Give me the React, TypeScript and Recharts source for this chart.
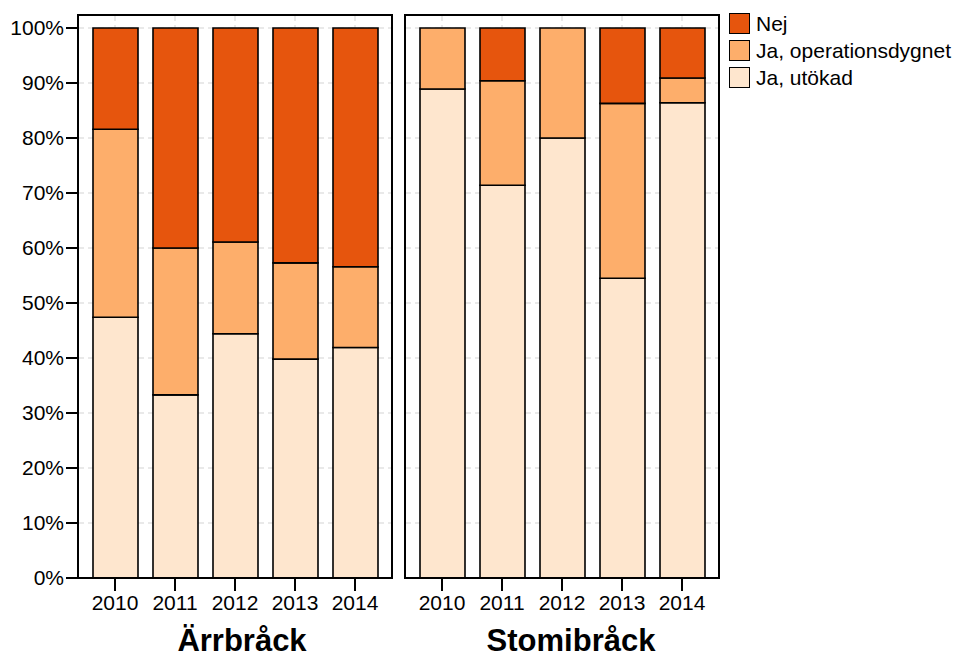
import { BarChart, Bar, XAxis, YAxis, CartesianGrid } from 'recharts';

const YEARS = ['2010', '2011', '2012', '2013', '2014'];

// Ärrbråck, andel per år (%)
const ARR_UTOKAD = [47.4, 33.3, 44.4, 39.8, 41.9];
const ARR_OPDYGN = [34.2, 26.7, 16.7, 17.5, 14.7];
const ARR_NEJ = [18.4, 40.0, 38.9, 42.7, 43.4];

// Stomibråck, andel per år (%)
const STOMI_UTOKAD = [88.9, 71.4, 80.0, 54.5, 86.4];
const STOMI_OPDYGN = [11.1, 19.0, 20.0, 31.8, 4.5];
const STOMI_NEJ = [0, 9.6, 0, 13.7, 9.1];

const PCT_TICKS = [0, 10, 20, 30, 40, 50, 60, 70, 80, 90, 100];

const SERIES = [
  { key: 'utokad', name: 'Ja, utökad', color: '#FEE6CE' },
  { key: 'opdygn', name: 'Ja, operationsdygnet', color: '#FDAE6B' },
  { key: 'nej', name: 'Nej', color: '#E6550D' },
];

const FONT = '"Liberation Sans", Arial, Helvetica, sans-serif';
const W = 961;
const H = 657;
const TOP = 15;
const BOTTOM_AXIS = 79;
const Y_MAX = 102.36;

function buildRows(utokad: number[], opdygn: number[], nej: number[]) {
  return YEARS.map((year, i) => ({
    year,
    utokad: utokad[i],
    opdygn: opdygn[i],
    nej: nej[i],
  }));
}

const arrRows = buildRows(ARR_UTOKAD, ARR_OPDYGN, ARR_NEJ);
const stomiRows = buildRows(STOMI_UTOKAD, STOMI_OPDYGN, STOMI_NEJ);

interface PanelProps {
  rows: ReturnType<typeof buildRows>;
  title: string;
  titleDx: number;
  left: number;
  width: number;
  marginLeft: number;
  marginRight: number;
  showY: boolean;
}

function Panel({ rows, title, titleDx, left, width, marginLeft, marginRight, showY }: PanelProps) {
  const yWidth = showY ? 78 : 0;
  const plotLeft = left + marginLeft + yWidth;
  const plotWidth = width - marginLeft - marginRight - yWidth;
  const plotHeight = H - TOP - BOTTOM_AXIS;
  return (
    <>
      <div style={{ position: 'absolute', left, top: 0 }}>
        <BarChart
          width={width}
          height={H}
          data={rows}
          margin={{ top: TOP, right: marginRight, bottom: 0, left: marginLeft }}
        >
          <CartesianGrid stroke="#e2e2e2" strokeDasharray="6 4" strokeWidth={1.5} />
          <XAxis
            dataKey="year"
            height={BOTTOM_AXIS}
            padding={{ left: 7, right: 7 }}
            tickSize={13}
            tickMargin={4}
            tick={{ fill: '#000', fontSize: 21, fontFamily: FONT }}
            tickLine={{ stroke: '#000', strokeWidth: 2 }}
            axisLine={{ stroke: '#000', strokeWidth: 2 }}
            label={{
              value: title,
              position: 'insideBottom',
              offset: 6,
              dx: titleDx,
              style: { fill: '#000', fontSize: 31, fontWeight: 'bold', fontFamily: FONT },
            }}
          />
          <YAxis
            hide={!showY}
            width={yWidth}
            domain={[0, Y_MAX]}
            ticks={PCT_TICKS}
            tickFormatter={(v) => `${v}%`}
            tickSize={12}
            tickMargin={2}
            tick={{ fill: '#000', fontSize: 21, fontFamily: FONT }}
            tickLine={{ stroke: '#000', strokeWidth: 2 }}
            axisLine={{ stroke: '#000', strokeWidth: 2 }}
          />
          {SERIES.map((s) => (
            <Bar
              key={s.key}
              dataKey={s.key}
              name={s.name}
              stackId="a"
              fill={s.color}
              stroke="#000"
              strokeWidth={1.6}
              barSize={45}
              isAnimationActive={false}
            />
          ))}
        </BarChart>
      </div>
      <div
        style={{
          position: 'absolute',
          left: plotLeft - 1,
          top: TOP - 1,
          width: plotWidth + 2,
          height: plotHeight + 2,
          border: '2px solid #000',
          boxSizing: 'border-box',
          pointerEvents: 'none',
        }}
      />
    </>
  );
}

export default function App() {
  const legendItems = [...SERIES].reverse();
  return (
    <div
      style={{
        position: 'absolute',
        left: 0,
        top: 0,
        width: W,
        height: H,
        background: '#fff',
        fontFamily: FONT,
      }}
    >
      <Panel rows={arrRows} title="Ärrbråck" titleDx={7} left={0} width={400} marginLeft={0} marginRight={8} showY />
      <Panel rows={stomiRows} title="Stomibråck" titleDx={9} left={400} width={561} marginLeft={5} marginRight={242} showY={false} />
      <div style={{ position: 'absolute', left: 729, top: 10 }}>
        {legendItems.map((s) => (
          <div key={s.key} style={{ display: 'flex', alignItems: 'center', height: 27 }}>
            <div
              style={{
                width: 21,
                height: 21,
                background: s.color,
                border: '1.5px solid #000',
                boxSizing: 'border-box',
                marginRight: 6,
              }}
            />
            <span style={{ fontSize: 21, color: '#000', lineHeight: '21px' }}>{s.name}</span>
          </div>
        ))}
      </div>
    </div>
  );
}
